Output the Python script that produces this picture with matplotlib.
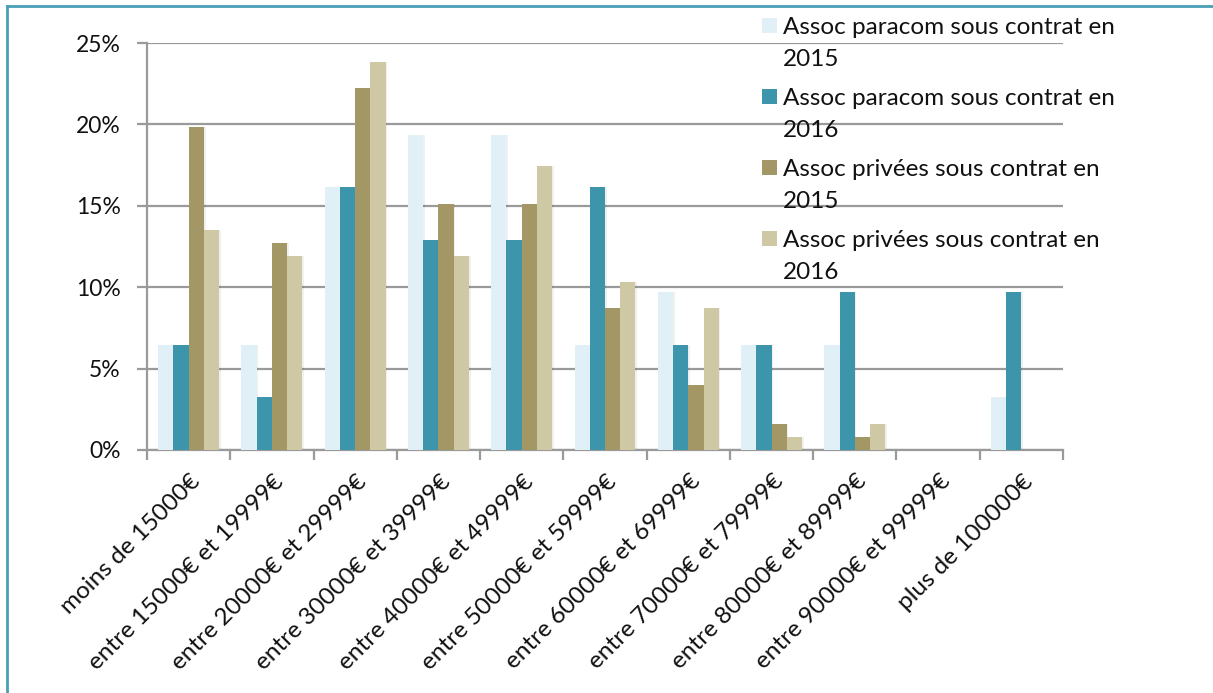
import matplotlib
matplotlib.use("Agg")
import matplotlib.pyplot as plt
import numpy as np
from matplotlib.lines import Line2D
from matplotlib.patches import Rectangle
from matplotlib.ticker import FuncFormatter, MultipleLocator
from matplotlib.transforms import ScaledTranslation

categories = [
    "moins de 15000€",
    "entre 15000€ et 19999€",
    "entre 20000€ et 29999€",
    "entre 30000€ et 39999€",
    "entre 40000€ et 49999€",
    "entre 50000€ et 59999€",
    "entre 60000€ et 69999€",
    "entre 70000€ et 79999€",
    "entre 80000€ et 89999€",
    "entre 90000€ et 99999€",
    "plus de 100000€",
]

series_labels = [
    "Assoc paracom sous contrat en\n2015",
    "Assoc paracom sous contrat en\n2016",
    "Assoc privées sous contrat en\n2015",
    "Assoc privées sous contrat en\n2016",
]

paracom_2015 = [6.45, 6.45, 16.13, 19.35, 19.35, 6.45, 9.68, 6.45, 6.45, 0.0, 3.23]
paracom_2016 = [6.45, 3.23, 16.13, 12.90, 12.90, 16.13, 6.45, 6.45, 9.68, 0.0, 9.68]
privees_2015 = [19.84, 12.70, 22.22, 15.08, 15.08, 8.73, 3.97, 1.59, 0.79, 0.0, 0.0]
privees_2016 = [13.49, 11.90, 23.81, 11.90, 17.46, 10.32, 8.73, 0.79, 1.59, 0.0, 0.0]

colors = ["#E1EFF7", "#3C95AB", "#A49766", "#CFC8A5"]

plt.rcParams["font.family"] = ["Lato", "DejaVu Sans"]

W, H = 1213, 693
fig = plt.figure(figsize=(W / 100, H / 100), dpi=100)
ax = fig.add_axes([147 / W, 1 - 450 / H, (1063 - 147) / W, (450 - 43) / H])

grid_col = "#9A9A9A"
text_col = "#111111"

x = np.arange(len(categories))
bw = 0.183
all_series = [paracom_2015, paracom_2016, privees_2015, privees_2016]
for i, (vals, col) in enumerate(zip(all_series, colors)):
    offs = (i - 1.5) * bw
    # soft drop shadow behind each bar
    ax.bar(x + offs + 0.02, vals, bw, color="#000000", alpha=0.06, zorder=2,
           linewidth=0)
    ax.bar(x + offs, vals, bw, color=col, zorder=3, linewidth=0)

ax.set_xlim(-0.5, len(categories) - 0.5)
ax.set_ylim(0, 25)
ax.yaxis.set_major_locator(MultipleLocator(5))
ax.yaxis.set_major_formatter(FuncFormatter(lambda v, p: f"{int(round(v))}%"))
ax.grid(axis="y", color=grid_col, linewidth=1.6, zorder=1)
ax.set_axisbelow(True)

for s in ["top", "right"]:
    ax.spines[s].set_visible(False)
for s in ["left", "bottom"]:
    ax.spines[s].set_color(grid_col)
    ax.spines[s].set_linewidth(1.6)

ax.tick_params(axis="y", length=7, width=1.6, color=grid_col, labelsize=16.5,
               pad=12, labelcolor=text_col)
# category boundary ticks on the x axis
ax.set_xticks(np.arange(-0.5, len(categories) + 0.5, 1.0))
ax.set_xticklabels([])
ax.tick_params(axis="x", which="major", length=7, width=1.6, color=grid_col)
ax.set_xticks(x, minor=True)
ax.set_xticklabels(categories, minor=True, rotation=45, ha="right",
                   va="top", rotation_mode="anchor", fontsize=17.5,
                   color=text_col)
ax.tick_params(axis="x", which="minor", length=0, pad=15)
shift = ScaledTranslation(1 / 100, 0, fig.dpi_scale_trans)
for lab in ax.get_xticklabels(minor=True):
    lab.set_transform(lab.get_transform() + shift)

# legend drawn at the upper right, over the plot area
sq = 15
ys = [18, 89, 160, 231]
for y0, col, lab in zip(ys, colors, series_labels):
    fig.add_artist(Rectangle((762 / W, 1 - (y0 + sq) / H), sq / W, sq / H,
                             transform=fig.transFigure, color=col,
                             linewidth=0))
    fig.text(783 / W, 1 - (y0 - 1) / H, lab, fontsize=17.5, va="top",
             ha="left", color=text_col, linespacing=1.65)

# outer frame
frame_col = "#4A9FB7"
fig.add_artist(Line2D([7 / W, 1.0], [1 - 6 / H, 1 - 6 / H],
                      transform=fig.transFigure, color=frame_col, lw=2))
fig.add_artist(Line2D([7 / W, 7 / W], [0.0, 1 - 6 / H],
                      transform=fig.transFigure, color=frame_col, lw=2))

fig.savefig("out.png", dpi=100)
